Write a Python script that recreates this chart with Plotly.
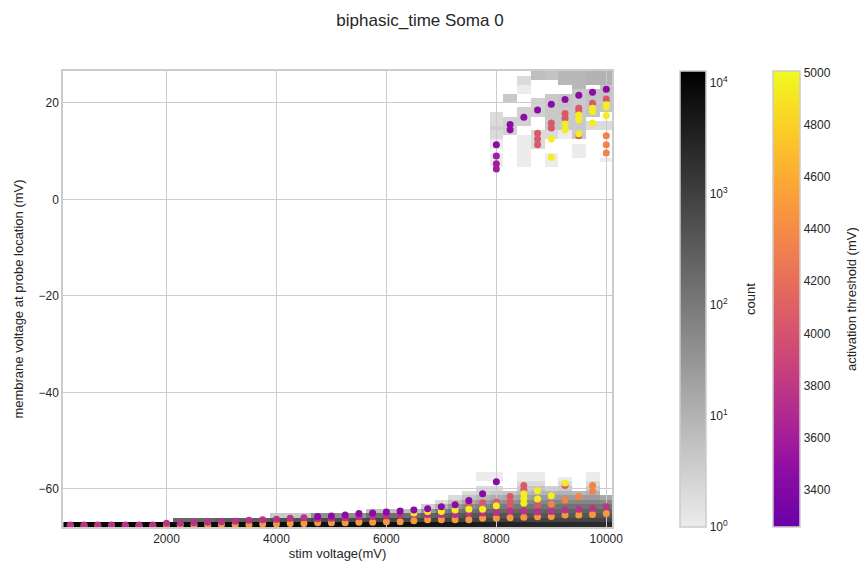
import numpy as np
import plotly.graph_objects as go

# ---------------------------------------------------------------------------
# Data
# ---------------------------------------------------------------------------
# Stimulus amplitudes swept (mV)
stim_levels = list(range(250, 10001, 250))

# Membrane-voltage histogram range (mV) and number of voltage bins
v_range = (-67.9, 26.6)
n_vbins = 100

# Histogram counts near rest: one list per stim level,
# counts listed from the lowest voltage bin upward
rest_counts = [
    [9500], [9500], [9500], [9500], [9500], [9500], [9500], [9500],          # 250-2000
    [8500, 200], [8500, 200], [8500, 200],                                   # 2250-2750
    [8000, 300], [8000, 300], [8000, 300], [8000, 300],                      # 3000-3750
    [7500, 500, 4], [7500, 500, 4], [7500, 500, 4],                          # 4000-4500
    [7000, 700, 40], [7000, 700, 40], [7000, 700, 40], [7000, 700, 40],      # 4750-5500
    [6500, 800, 150, 6], [6500, 800, 150, 6],
    [6500, 800, 150, 6], [6500, 800, 150, 6],                                # 5750-6500
    [6000, 900, 250, 30, 3],                                                 # 6750
    [5500, 900, 300, 80, 10, 2],                                             # 7000
    [5000, 900, 350, 120, 30, 6, 2],                                         # 7250
    [4500, 900, 400, 150, 50, 15, 5, 2],                                     # 7500
    [4000, 900, 400, 180, 70, 25, 8, 3, 2, 0, 1, 1],                         # 7750
    [3500, 900, 400, 200, 90, 35, 12, 4, 2, 0, 1, 1],                        # 8000
    [3200, 900, 400, 200, 100, 40, 15, 5],                                   # 8250
    [3000, 800, 400, 220, 110, 50, 20, 8, 4, 2, 1, 1],                       # 8500
    [2800, 800, 400, 220, 120, 55, 25, 10, 5, 2, 1, 1],                      # 8750
    [2600, 800, 400, 230, 120, 60, 25, 10, 3],                               # 9000
    [2500, 800, 400, 230, 130, 60, 25, 10, 4, 2, 1],                         # 9250
    [2400, 800, 400, 230, 130, 60, 25, 8],                                   # 9500
    [2300, 800, 400, 240, 130, 60, 25, 10, 4, 2, 1, 1],                      # 9750
    [2200, 800, 400, 240, 120, 50, 15],                                      # 10000
]

# Spike-peak histogram blocks: (stim mV, low mV, high mV, count per bin)
peak_blocks = [
    (8000, 12.3, 18.5, 2), (8000, 14.0, 15.4, 3),
    (8000, 10.6, 12.0, 1), (8000, 8.5, 9.9, 1), (8000, 6.8, 8.2, 1),
    (8250, 19.6, 22.3, 4), (8250, 13.4, 16.8, 3),
    (8500, 24.1, 26.1, 2), (8500, 22.3, 24.1, 1), (8500, 15.1, 18.9, 3), (8500, 7.1, 13.0, 1),
    (8750, 24.4, 26.6, 6), (8750, 16.9, 20.6, 3), (8750, 11.0, 14.3, 2),
    (9000, 25.1, 26.6, 5), (9000, 18.5, 22.0, 4), (9000, 14.1, 17.9, 4),
    (9000, 12.0, 14.1, 2), (9000, 7.1, 9.9, 1),
    (9250, 23.7, 26.6, 8), (9250, 18.9, 22.3, 5), (9250, 14.1, 18.9, 4), (9250, 12.0, 14.1, 1),
    (9500, 23.0, 26.6, 8), (9500, 12.0, 22.5, 4), (9500, 8.9, 11.3, 1),
    (9750, 23.5, 26.6, 10), (9750, 17.0, 22.5, 5), (9750, 14.5, 16.0, 2),
    (10000, 24.0, 26.6, 10), (10000, 18.0, 23.5, 5), (10000, 14.4, 16.5, 2), (10000, 7.9, 8.9, 1),
]

# Probe voltage per neuron, grouped by activation threshold (mV)
orange_thr = 4480
orange_stim = [250, 500, 750, 1000, 1250, 1500, 1750, 2000, 2250, 2500, 2750, 3000, 3250,
               3500, 3750, 4000, 4250, 4500, 4750, 5000, 5250, 5500, 5750, 6000, 6250,
               6500, 6750, 7000, 7250, 7500, 7750, 8000, 8250, 8500, 8750, 9000, 9250,
               9500, 9750, 10000]
orange_v = [-67.7, -67.7, -67.7, -67.7, -67.7, -67.7, -67.7, -67.5, -67.5, -67.5, -67.5,
            -67.4, -67.4, -67.4, -67.3, -67.3, -67.2, -67.2, -67.0, -67.0, -67.0, -66.9,
            -66.9, -66.8, -66.8, -66.6, -66.4, -66.4, -66.4, -66.4, -66.1, -66.1, -66.0,
            -65.9, -65.8, -65.7, -65.4, -65.4, -65.3, -65.1]

coral_thr = 4350
coral_stim = [9000, 9250, 9500, 9750, 9750, 10000, 10000, 10000]
coral_v = [-63.2, -62.3, -61.6, -59.3, -60.5, 13.2, 11.3, 9.6]

pink_thr = 4050
pink_stim = [7500, 7750, 8000, 8250, 8250, 8250, 8500, 8500, 8750, 9250,
             8750, 8750, 8750, 9000, 9000, 9250, 9250, 9500, 9500, 9500, 9750, 10000]
pink_v = [-63.3, -62.9, -62.7, -61.6, -62.7, -63.6, -59.3, -60.2, -63.3, -59.3,
          13.7, 12.5, 11.3, 15.8, 14.8, 17.8, 16.8, 18.9, 18.3, 13.2, 19.9, 20.8]

magenta_thr = 3760
magenta_stim = orange_stim
magenta_v = [-67.5, -67.5, -67.5, -67.5, -67.5, -67.5, -67.5, -67.1, -67.1, -67.0, -66.9,
             -66.8, -66.7, -66.5, -66.4, -66.3, -66.1, -66.0, -66.2, -66.1, -66.0, -65.8,
             -65.7, -65.6, -65.4, -65.2, -65.3, -65.3, -65.3, -65.0, -65.0, -64.9, -64.6,
             -64.6, -64.8, -64.7, -64.4, -64.2, -64.0, -63.7]

yellow_thr = 4950
yellow_stim = [6500, 6750, 7000, 7250, 7500, 7750, 8000, 8500, 8500, 8500, 8750, 8750,
               9000, 9250,
               9000, 9000, 9250, 9250, 9500, 9500, 9500, 9750, 9750, 9750, 10000, 10000, 10000]
yellow_v = [-65.0, -64.7, -64.7, -64.4, -64.2, -64.2, -63.5, -61.0, -62.0, -63.0, -60.4, -62.1,
            -61.4, -58.8,
            12.5, 8.7, 15.6, 14.4, 17.5, 16.5, 13.6, 18.9, 18.2, 15.8, 19.6, 19.2, 17.4]

violet_thr = 3600
violet_stim = [8000, 8000, 8000]
violet_v = [9.0, 7.4, 6.3]

purple_thr = 3450
purple_stim = [4750, 5000, 5250, 5500, 5750, 6000, 6250, 6500, 6750, 7000, 7250, 7500,
               7750, 8000, 8000, 8250, 8250, 8500, 8750, 9000, 9250, 9500, 9750, 10000]
purple_v = [-65.7, -65.6, -65.4, -65.1, -65.0, -64.8, -64.6, -64.4, -64.1, -63.7, -63.3,
            -62.4, -61.0, -58.5, 11.3, 15.5, 14.4, 17.0, 18.5, 19.7, 20.7, 21.6, 22.2, 22.8]

threshold_range = (3258, 5005)

x_ticks = [2000, 4000, 6000, 8000, 10000]
y_ticks = [-60, -40, -20, 0, 20]

# ---------------------------------------------------------------------------
# Build the 2-D histogram grid (log10 counts, empty bins left blank)
# ---------------------------------------------------------------------------
dv = (v_range[1] - v_range[0]) / n_vbins
v_centers = v_range[0] + dv * (np.arange(n_vbins) + 0.5)
z = np.full((n_vbins, len(stim_levels)), np.nan)

for col, counts in enumerate(rest_counts):
    for row, c in enumerate(counts):
        if c > 0:
            z[row, col] = np.log10(c)

for stim, lo, hi, c in peak_blocks:
    col = stim_levels.index(stim)
    rows = np.where((v_centers >= lo) & (v_centers <= hi))[0]
    for row in rows:
        val = np.log10(c)
        if np.isnan(z[row, col]) or z[row, col] < val:
            z[row, col] = val

# Scatter points, drawn in this order
groups = [
    (orange_thr, orange_stim, orange_v),
    (coral_thr, coral_stim, coral_v),
    (pink_thr, pink_stim, pink_v),
    (magenta_thr, magenta_stim, magenta_v),
    (yellow_thr, yellow_stim, yellow_v),
    (violet_thr, violet_stim, violet_v),
    (purple_thr, purple_stim, purple_v),
]
pts_x, pts_y, pts_c = [], [], []
for thr, xs, ys in groups:
    pts_x += list(xs)
    pts_y += list(ys)
    pts_c += [thr] * len(xs)

# ---------------------------------------------------------------------------
# Figure
# ---------------------------------------------------------------------------
FONT = "Liberation Sans, Arial, sans-serif"
TXT = "#262626"
W, H = 859, 574
L, R, T, B = 63, 247, 71, 47
plot_w = W - L - R

grey_scale = [[0.0, "#ececec"], [1.0, "#000000"]]
plasma_top = [
    [0.0, "#6a00a8"], [0.125, "#8f0da4"], [0.25, "#b12a90"], [0.375, "#cc4778"],
    [0.5, "#e16462"], [0.625, "#f2844b"], [0.75, "#fca636"], [0.875, "#fcce25"],
    [1.0, "#f0f921"],
]
count_max_log = 4.107

fig = go.Figure()

fig.add_trace(go.Heatmap(
    x=stim_levels, y=v_centers, z=z,
    xaxis="x", yaxis="y",
    colorscale=grey_scale, zmin=0, zmax=count_max_log,
    hoverongaps=False,
    colorbar=dict(
        x=(680 - L) / plot_w, xanchor="left", xpad=0,
        y=0.5, yanchor="middle", ypad=0,
        len=1, lenmode="fraction", thickness=26,
        outlinecolor="#cccccc", outlinewidth=1.5,
        tickvals=[0, 1, 2, 3, 4],
        ticktext=["10<sup>0</sup>", "10<sup>1</sup>", "10<sup>2</sup>",
                  "10<sup>3</sup>", "10<sup>4</sup>"],
        ticks="", tickfont=dict(family=FONT, size=12, color=TXT),
    ),
))

fig.add_trace(go.Scatter(
    x=pts_x, y=pts_y, mode="markers",
    xaxis="x2", yaxis="y2",
    marker=dict(
        size=7, color=pts_c, colorscale=plasma_top,
        cmin=threshold_range[0], cmax=threshold_range[1],
        line=dict(width=0),
        colorbar=dict(
            x=(773 - L) / plot_w, xanchor="left", xpad=0,
            y=0.5, yanchor="middle", ypad=0,
            len=1, lenmode="fraction", thickness=27,
            outlinecolor="#cccccc", outlinewidth=1.5,
            tickvals=[3400, 3600, 3800, 4000, 4200, 4400, 4600, 4800, 5000],
            ticks="", tickfont=dict(family=FONT, size=12, color=TXT),
        ),
    ),
    showlegend=False,
))

x_range = [117, 10104]
y_range = list(v_range)
minus = "\u2212"

# Colour-bar titles placed beside their tick labels
cbar_titles = [
    dict(text="count", x=(750 - L) / plot_w),
    dict(text="activation threshold (mV)", x=(851 - L) / plot_w),
]
annotations = [
    dict(text=t["text"], x=t["x"], y=0.5, xref="paper", yref="paper",
         xanchor="center", yanchor="middle", textangle=-90, showarrow=False,
         font=dict(family=FONT, size=13, color=TXT))
    for t in cbar_titles
]

fig.update_layout(
    width=W, height=H,
    margin=dict(l=L, r=R, t=T, b=B, pad=0),
    paper_bgcolor="white",
    plot_bgcolor="rgba(0,0,0,0)",
    font=dict(family=FONT, size=12, color=TXT),
    annotations=annotations,
    title=dict(text="biphasic_time Soma 0", x=420 / W, xanchor="center",
               y=1 - 20 / H, yanchor="middle",
               font=dict(family=FONT, size=17, color=TXT)),
    xaxis=dict(
        range=x_range, showgrid=False, zeroline=False,
        showline=True, linecolor="#cccccc", linewidth=1.5, mirror=True,
        tickvals=x_ticks, ticktext=[str(t) for t in x_ticks], ticks="",
        tickfont=dict(family=FONT, size=12, color=TXT),
        title=dict(text="stim voltage(mV)", font=dict(family=FONT, size=13, color=TXT),
                   standoff=4),
    ),
    yaxis=dict(
        range=y_range, showgrid=False, zeroline=False,
        showline=True, linecolor="#cccccc", linewidth=1.5, mirror=True,
        tickvals=y_ticks,
        ticktext=[(minus + str(-t)) if t < 0 else str(t) for t in y_ticks], ticks="",
        tickfont=dict(family=FONT, size=12, color=TXT),
        title=dict(text="membrane voltage at probe location (mV)",
                   font=dict(family=FONT, size=13, color=TXT), standoff=12),
    ),
    xaxis2=dict(
        range=x_range, anchor="y2", showgrid=True, gridcolor="#cccccc", gridwidth=1.3,
        zeroline=False, showline=False, tickvals=x_ticks, showticklabels=False, ticks="",
    ),
    yaxis2=dict(
        range=y_range, anchor="x2", showgrid=True, gridcolor="#cccccc", gridwidth=1.3,
        zeroline=False, showline=False, tickvals=y_ticks, showticklabels=False, ticks="",
    ),
)

fig.write_html("out.html")
